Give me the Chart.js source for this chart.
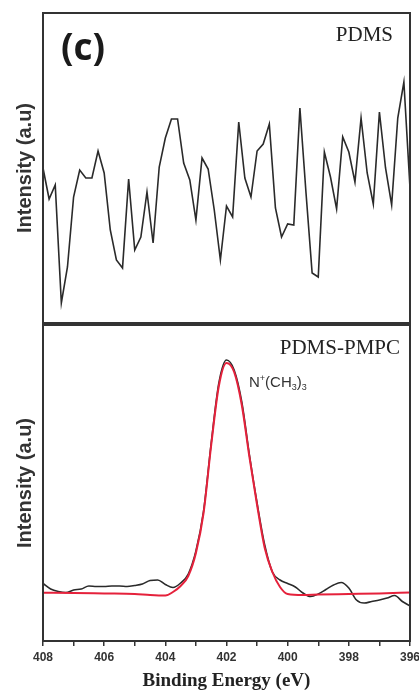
<!DOCTYPE html>
<html><head><meta charset="utf-8">
<script src="https://cdn.jsdelivr.net/npm/chart.js@4/dist/chart.umd.min.js"></script>
<style>
html,body{margin:0;padding:0;background:#fff;}
#wrap{position:relative;width:419px;height:697px;overflow:hidden;background:#fff;}
canvas{position:absolute;left:0;}
#c1{top:0;}
#c2{top:323px;}
.lbl{position:absolute;white-space:nowrap;color:#222;line-height:1;}
#panel{left:61px;top:20px;font:bold 37px "Open Sans",sans-serif;color:#1a1a1a;}
#t1{right:26px;top:22px;font:21px "Liberation Serif",serif;}
#t2{right:19px;top:335px;font:21px "Liberation Serif",serif;}
#ann{left:249px;top:373px;font:15px "Liberation Sans",sans-serif;color:#333;}
#ann sup{font-size:9px;vertical-align:6px;}
#ann sub{font-size:9px;vertical-align:-3px;}
</style></head><body>
<div id="wrap">
<canvas id="c1" width="419" height="326"></canvas>
<canvas id="c2" width="419" height="374"></canvas>
<div class="lbl" id="panel">(c)</div>
<div class="lbl" id="t1">PDMS</div>
<div class="lbl" id="t2">PDMS-PMPC</div>
<div class="lbl" id="ann">N<sup>+</sup>(CH<sub>3</sub>)<sub>3</sub></div>
</div>
<script>
// ---------- DATA ----------
const pdmsEnergy = [408.0,407.8,407.6,407.4,407.2,407.0,406.8,406.6,406.4,406.2,406.0,405.8,405.6,405.4,405.2,405.0,404.8,404.6,404.4,404.2,404.0,403.8,403.6,403.4,403.2,403.0,402.8,402.6,402.4,402.2,402.0,401.8,401.6,401.4,401.2,401.0,400.8,400.6,400.4,400.2,400.0,399.8,399.6,399.4,399.2,399.0,398.8,398.6,398.4,398.2,398.0,397.8,397.6,397.4,397.2,397.0,396.8,396.6,396.4,396.2,396.0];
const pdmsIntensity = [155,124,138,20,56,126,153,145,145,172,150,93,63,55,144,73,86,131,80,156,185,204,204,160,143,103,165,154,113,63,117,106,201,145,126,172,179,199,115,86,99,98,215,130,50,46,171,146,114,186,171,141,205,150,119,211,155,118,205,241,135];

const pmpcEnergy = [408,407.75,407.5,407.25,407,406.75,406.5,406.25,406,405.75,405.5,405.25,405,404.75,404.5,404.25,404,403.75,403.5,403.25,403,402.75,402.5,402.25,402,401.75,401.5,401.25,401,400.75,400.5,400.25,400,399.75,399.5,399.25,399,398.75,398.5,398.25,398,397.75,397.5,397.25,397,396.75,396.5,396.25,396];
const pmpcIntensity = [57.5,52,49.5,48.5,51,52,55,54.5,54.5,55,55,54.5,55.5,57,60.5,61,56.5,53.5,58,67,90,130,198,258,281,271,239,186,138,96,69,61,57.5,54,48,44.5,47,51.5,56,58.5,53,41,38,39.5,41,43,45.5,39.5,35];

const fitEnergy = [408,407,406,405,404.5,404,403.75,403.5,403.25,403,402.75,402.5,402.25,402,401.75,401.5,401.25,401,400.75,400.5,400.25,400,399.5,399,398,397,396];
const fitIntensity = [48.3,48,47.5,47,46,45.5,49,55,65,88,128,196,255,278,269,236,184,136,93,69,54,47,46,46.5,47,47.5,48.5];

const xTicksMajor = [408,406,404,402,400,398,396];

const pdmsLabel = 'PDMS';
const pmpcLabel = 'PDMS-PMPC';
const fitLabel = 'Fit';
const yTitle = 'Intensity (a.u)';
const xTitle = 'Binding Energy (eV)';

// ---------- CHARTS ----------
Chart.defaults.font.family = '"Liberation Sans", Arial, sans-serif';
Chart.defaults.color = '#333';

const toXY = (xs, ys) => xs.map((x, i) => ({x: x, y: ys[i]}));

const framePlugin = {
  id: 'frame',
  afterDatasetsDraw(chart) {
    const {ctx, chartArea: a} = chart;
    ctx.save();
    ctx.strokeStyle = '#333';
    ctx.lineWidth = 2;
    ctx.strokeRect(a.left, a.top, a.right - a.left, a.bottom - a.top);
    ctx.restore();
  }
};

const yAxis = (max) => ({
  type: 'linear', min: 0, max: max,
  ticks: {display: false},
  grid: {display: false},
  border: {display: false},
  title: {display: true, text: yTitle, color: '#333',
          font: {family: '"Liberation Sans", Arial, sans-serif', weight: 'bold', size: 20},
          padding: {top: 13, bottom: 0}},
  afterFit(scale) { scale.width = 43; }
});

new Chart(document.getElementById('c1'), {
  type: 'line',
  data: {datasets: [{
    label: pdmsLabel,
    data: toXY(pdmsEnergy, pdmsIntensity),
    borderColor: '#2a2a2a', borderWidth: 1.6,
    pointRadius: 0, tension: 0, fill: false
  }]},
  options: {
    responsive: false, animation: false, devicePixelRatio: 1,
    layout: {padding: {top: 13, right: 9, bottom: 3, left: 0}},
    plugins: {legend: {display: false}, tooltip: {enabled: false}},
    scales: {
      x: {type: 'linear', min: 396, max: 408, reverse: true, display: false},
      y: yAxis(310)
    }
  },
  plugins: [framePlugin]
});

new Chart(document.getElementById('c2'), {
  type: 'line',
  data: {datasets: [
    {
      label: fitLabel,
      data: toXY(fitEnergy, fitIntensity),
      borderColor: '#e5213b', borderWidth: 2,
      pointRadius: 0, cubicInterpolationMode: 'monotone', fill: false
    },
    {
      label: pmpcLabel,
      data: toXY(pmpcEnergy, pmpcIntensity),
      borderColor: '#2a2a2a', borderWidth: 1.6,
      pointRadius: 0, cubicInterpolationMode: 'monotone', fill: false
    }
  ]},
  options: {
    responsive: false, animation: false, devicePixelRatio: 1,
    layout: {padding: {top: 2, right: 9, bottom: 0, left: 0}},
    plugins: {legend: {display: false}, tooltip: {enabled: false}},
    scales: {
      x: {
        type: 'linear', min: 396, max: 408, reverse: true,
        afterBuildTicks(scale) {
          scale.ticks = [];
          for (let v = 408; v >= 396; v -= 1) scale.ticks.push({value: v});
        },
        ticks: {
          autoSkip: false, maxRotation: 0, padding: 4, color: '#333',
          font: {weight: 'bold', size: 12},
          callback: (v) => xTicksMajor.includes(v) ? String(v) : ''
        },
        grid: {display: true, drawOnChartArea: false, drawTicks: true,
               tickLength: 5, color: '#333', lineWidth: 1.5},
        border: {display: false},
        title: {display: true, text: xTitle, color: '#222',
                font: {family: '"Liberation Serif", "Times New Roman", serif', weight: 'bold', size: 19},
                padding: {top: 0, bottom: 5}},
        afterFit(scale) { scale.height = 56; scale.paddingLeft = 0; scale.paddingRight = 0; }
      },
      y: yAxis(316)
    }
  },
  plugins: [framePlugin]
});
</script>
</body></html>
